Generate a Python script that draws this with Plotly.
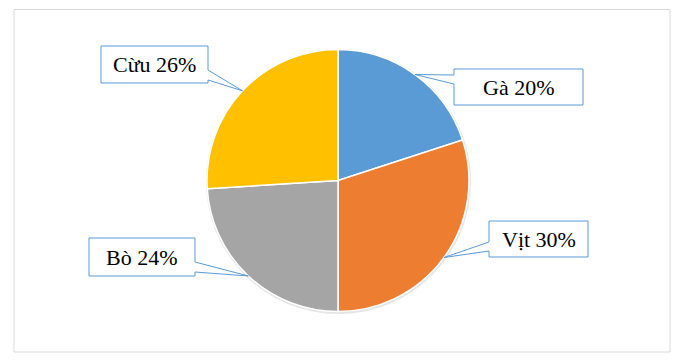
import math
import plotly.graph_objects as go

# ---- data ----
labels = ["Gà", "Vịt", "Bò", "Cừu"]
values = [20, 30, 24, 26]
colors = ["#5B9BD5", "#ED7D31", "#A5A5A5", "#FFC000"]

# ---- layout constants (page pixels, top-left origin) ----
OFF = 8                      # page body margin
W, H = 683, 353              # figure size
CX, CY, R = 338, 180.5, 131
# callout boxes: x0, y0, x1, y1, pointer side, pointer base (ya, yb)
boxes = {
    "Gà": (454, 69, 583, 105, "left", (75, 84)),
    "Vịt": (489, 221, 588, 257, "left", (242, 251)),
    "Bò": (89, 238, 195, 276, "right", (262, 272)),
    "Cừu": (101, 46, 208, 83, "right", (70, 80)),
}
BLUE = "#5B9BD5"
FONT = "Liberation Serif"


def px(x):
    return (x - OFF) / W


def py(y):
    return 1 - (y - OFF) / H


fig = go.Figure(
    go.Pie(
        labels=labels,
        values=values,
        marker=dict(colors=colors, line=dict(color="#FFFFFF", width=1.5)),
        sort=False,
        direction="clockwise",
        rotation=0,
        textinfo="none",
        hoverinfo="label+percent",
        showlegend=False,
        domain=dict(
            x=[px(CX - R), px(CX + R)],
            y=[py(CY + R), py(CY - R)],
        ),
    )
)

shapes = []
# outer chart border
shapes.append(dict(type="rect", xref="paper", yref="paper",
                   x0=px(14), y0=py(352), x1=px(670), y1=py(9.5),
                   line=dict(color="#D9D9D9", width=1), fillcolor="rgba(0,0,0,0)",
                   layer="below"))
# faint shadow behind the pie
shapes.append(dict(type="circle", xref="paper", yref="paper",
                   x0=px(CX - R - 1), x1=px(CX + R + 2),
                   y0=py(CY + R + 2.5), y1=py(CY - R - 0.5),
                   line=dict(width=0), fillcolor="rgba(0,0,0,0.10)", layer="below"))

annotations = []
total = sum(values)
cum = 0
for lab, val in zip(labels, values):
    mid = (cum + val / 2) / total * 2 * math.pi
    cum += val
    tx = CX + R * math.sin(mid)
    ty = CY - R * math.cos(mid)
    x0, y0, x1, y1, side, (ba, bb) = boxes[lab]
    if side == "left":
        pts = [(x0, y0), (x1, y0), (x1, y1), (x0, y1), (x0, bb), (tx, ty), (x0, ba)]
    else:
        pts = [(x0, y0), (x1, y0), (x1, ba), (tx, ty), (x1, bb), (x1, y1), (x0, y1)]
    path = "M " + " L ".join(f"{px(a):.5f},{py(b):.5f}" for a, b in pts) + " Z"
    shapes.append(dict(type="path", xref="paper", yref="paper", path=path,
                       line=dict(color=BLUE, width=1), fillcolor="#FFFFFF",
                       layer="above"))
    pct = round(val / total * 100)
    annotations.append(dict(
        xref="paper", yref="paper",
        x=px((x0 + x1) / 2), y=py((y0 + y1) / 2 + 0.5),
        text=f"{lab} {pct}%", showarrow=False,
        xanchor="center", yanchor="middle",
        font=dict(family=FONT, size=22, color="#000000"),
    ))

fig.update_layout(
    width=W, height=H,
    margin=dict(l=0, r=0, t=0, b=0),
    paper_bgcolor="#FFFFFF",
    plot_bgcolor="#FFFFFF",
    font=dict(family=FONT),
    shapes=shapes,
    annotations=annotations,
)

fig.write_html("out.html")
